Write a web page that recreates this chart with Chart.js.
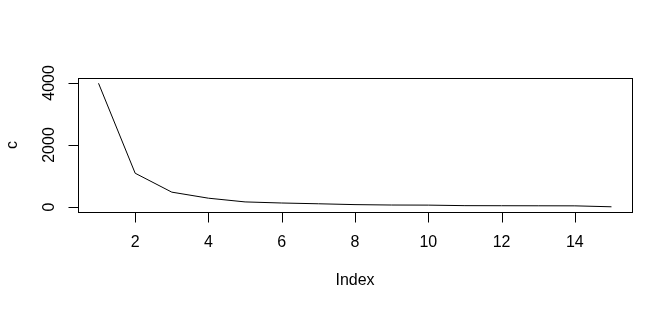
<!DOCTYPE html>
<html><head><meta charset="utf-8">
<script src="https://cdn.jsdelivr.net/npm/chart.js@4/dist/chart.umd.min.js"></script>
<style>html,body{margin:0;padding:0;background:#fff}#wrap{width:672px;height:310px}</style>
</head><body><div id="wrap"><canvas id="c" width="672" height="310"></canvas></div>
<script>
const indexValues = [1,2,3,4,5,6,7,8,9,10,11,12,13,14,15];
const cValues = [3990,1090,480,285,165,130,105,78,65,62,45,42,40,38,8];
const xTicks = [2,4,6,8,10,12,14];
const yTicks = [0,2000,4000];
const xLabel = "Index";
const yLabel = "c";

const FONT = '16px "Liberation Sans", Arial, sans-serif';

const rAxes = {
  id: 'rAxes',
  afterDraw(chart) {
    const ctx = chart.ctx, a = chart.chartArea;
    const xs = chart.scales.x, ys = chart.scales.y;
    ctx.save();
    ctx.strokeStyle = '#000'; ctx.lineWidth = 1; ctx.fillStyle = '#000';
    // box
    ctx.strokeRect(Math.round(a.left)+0.5, Math.round(a.top)+0.5, Math.round(a.right-a.left), Math.round(a.bottom-a.top));
    ctx.font = FONT;
    // x axis ticks
    ctx.textAlign = 'center'; ctx.textBaseline = 'middle';
    const yb = Math.round(a.bottom)+0.5;
    ctx.beginPath();
    for (const t of xTicks) {
      const px = Math.round(xs.getPixelForValue(t))+0.5;
      ctx.moveTo(px, yb); ctx.lineTo(px, yb+10);
    }
    ctx.stroke();
    for (const t of xTicks) {
      ctx.fillText(String(t), xs.getPixelForValue(t), a.bottom+31);
    }
    ctx.fillText(xLabel, (a.left+a.right)/2, a.bottom+69);
    // y axis ticks
    const xl = Math.round(a.left)+0.5;
    ctx.beginPath();
    for (const t of yTicks) {
      const py = Math.round(ys.getPixelForValue(t))+0.5;
      ctx.moveTo(xl, py); ctx.lineTo(xl-10, py);
    }
    ctx.stroke();
    for (const t of yTicks) {
      const py = ys.getPixelForValue(t);
      ctx.save(); ctx.translate(a.left-28, py); ctx.rotate(-Math.PI/2);
      ctx.fillText(String(t), 0, 0); ctx.restore();
    }
    ctx.save(); ctx.translate(a.left-65, (a.top+a.bottom)/2); ctx.rotate(-Math.PI/2);
    ctx.fillText(yLabel, 0, 0); ctx.restore();
    ctx.restore();
  }
};

new Chart(document.getElementById('c'), {
  type: 'line',
  data: { datasets: [{ data: indexValues.map((x,i)=>({x, y:cValues[i]})), borderColor:'#000', borderWidth:1, pointRadius:0, tension:0, fill:false }] },
  options: {
    responsive:false, animation:false, devicePixelRatio:1,
    layout:{ padding:{ left:78, right:40, top:78, bottom:98 } },
    plugins:{ legend:{display:false}, tooltip:{enabled:false} },
    scales:{
      x:{ type:'linear', min:0.44, max:15.56, display:false },
      y:{ type:'linear', min:-160, max:4160, display:false }
    }
  },
  plugins:[rAxes]
});
</script></body></html>
